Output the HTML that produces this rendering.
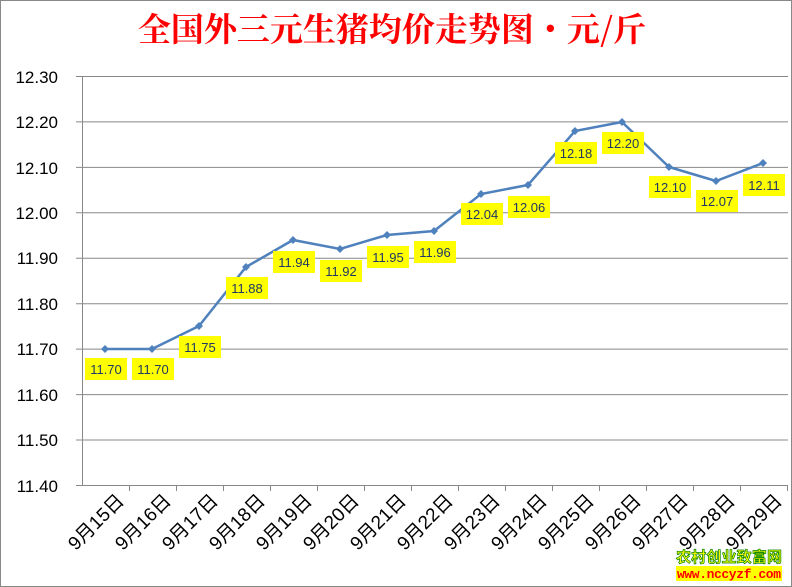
<!DOCTYPE html>
<html><head><meta charset="utf-8"><style>
body{margin:0;background:#fff}
svg{display:block;font-family:"Liberation Sans","Noto Sans CJK SC",sans-serif}
</style></head><body>
<svg width="792" height="587" viewBox="0 0 792 587">
<rect x="0.5" y="0.5" width="791" height="586" fill="#fff" stroke="#888"/>
<text x="392" y="41" text-anchor="middle" font-family="'Noto Serif CJK SC',serif" font-weight="bold" font-size="33" fill="#f00">全国外三元生猪均价走势图・元/斤</text>
<g stroke="#888" stroke-width="1">
<line x1="76" y1="76.5" x2="788" y2="76.5"/>
<line x1="76" y1="121.9" x2="788" y2="121.9"/>
<line x1="76" y1="167.4" x2="788" y2="167.4"/>
<line x1="76" y1="212.8" x2="788" y2="212.8"/>
<line x1="76" y1="258.2" x2="788" y2="258.2"/>
<line x1="76" y1="303.7" x2="788" y2="303.7"/>
<line x1="76" y1="349.1" x2="788" y2="349.1"/>
<line x1="76" y1="394.6" x2="788" y2="394.6"/>
<line x1="76" y1="440" x2="788" y2="440"/>
<line x1="76" y1="485.5" x2="788" y2="485.5"/>
<line x1="82.5" y1="76" x2="82.5" y2="485"/>
</g>
<g stroke="#888">
<line x1="129.5" y1="485" x2="129.5" y2="491"/><line x1="176.5" y1="485" x2="176.5" y2="491"/><line x1="223.5" y1="485" x2="223.5" y2="491"/><line x1="270.5" y1="485" x2="270.5" y2="491"/><line x1="317.5" y1="485" x2="317.5" y2="491"/><line x1="364.5" y1="485" x2="364.5" y2="491"/><line x1="411.5" y1="485" x2="411.5" y2="491"/><line x1="458.5" y1="485" x2="458.5" y2="491"/><line x1="505.5" y1="485" x2="505.5" y2="491"/><line x1="552.5" y1="485" x2="552.5" y2="491"/><line x1="599.5" y1="485" x2="599.5" y2="491"/><line x1="646.5" y1="485" x2="646.5" y2="491"/><line x1="693.5" y1="485" x2="693.5" y2="491"/><line x1="740.5" y1="485" x2="740.5" y2="491"/><line x1="787.5" y1="485" x2="787.5" y2="491"/>
</g>
<g font-size="17" fill="#000" text-anchor="end">
<text x="58" y="83">12.30</text><text x="58" y="128">12.20</text><text x="58" y="174">12.10</text><text x="58" y="219">12.00</text><text x="58" y="264">11.90</text><text x="58" y="310">11.80</text><text x="58" y="355">11.70</text><text x="58" y="401">11.60</text><text x="58" y="446">11.50</text><text x="58" y="492">11.40</text>
</g>
<polyline fill="none" stroke="#4f81bd" stroke-width="2.5" points="105,349 152,349 199,326 246,267 293,240 340,249 387,235 434,231 481,194 528,185 575,131 622,122 669,167 716,181 763,163"/>
<g fill="#4f81bd">
<path d="M105 345l4 4-4 4-4-4z"/><path d="M152 345l4 4-4 4-4-4z"/><path d="M199 322l4 4-4 4-4-4z"/><path d="M246 263l4 4-4 4-4-4z"/><path d="M293 236l4 4-4 4-4-4z"/><path d="M340 245l4 4-4 4-4-4z"/><path d="M387 231l4 4-4 4-4-4z"/><path d="M434 227l4 4-4 4-4-4z"/><path d="M481 190l4 4-4 4-4-4z"/><path d="M528 181l4 4-4 4-4-4z"/><path d="M575 127l4 4-4 4-4-4z"/><path d="M622 118l4 4-4 4-4-4z"/><path d="M669 163l4 4-4 4-4-4z"/><path d="M716 177l4 4-4 4-4-4z"/><path d="M763 159l4 4-4 4-4-4z"/>
</g>
<g font-size="13" fill="#1f3864" text-anchor="middle">
<g fill="#ffff00"><rect x="85" y="358" width="42" height="22"/><rect x="132" y="358" width="42" height="22"/><rect x="179" y="336" width="42" height="22"/><rect x="226" y="277" width="42" height="22"/><rect x="273" y="251" width="42" height="22"/><rect x="320" y="260" width="42" height="22"/><rect x="367" y="246" width="42" height="22"/><rect x="414" y="241" width="42" height="22"/><rect x="461" y="203" width="42" height="22"/><rect x="508" y="196" width="42" height="22"/><rect x="555" y="142" width="42" height="22"/><rect x="602" y="132" width="42" height="22"/><rect x="649" y="176" width="42" height="22"/><rect x="696" y="190" width="42" height="22"/><rect x="743" y="174" width="42" height="22"/></g>
<text x="106" y="374">11.70</text><text x="153" y="374">11.70</text><text x="200" y="352">11.75</text><text x="247" y="293">11.88</text><text x="294" y="267">11.94</text><text x="341" y="276">11.92</text><text x="388" y="262">11.95</text><text x="435" y="257">11.96</text><text x="482" y="219">12.04</text><text x="529" y="212">12.06</text><text x="576" y="158">12.18</text><text x="623" y="148">12.20</text><text x="670" y="192">12.10</text><text x="717" y="206">12.07</text><text x="764" y="190">12.11</text>
</g>
<g font-size="19" fill="#000" text-anchor="end">
<text transform="translate(125,502) rotate(-45)">9月15日</text><text transform="translate(172,502) rotate(-45)">9月16日</text><text transform="translate(219,502) rotate(-45)">9月17日</text><text transform="translate(266,502) rotate(-45)">9月18日</text><text transform="translate(313,502) rotate(-45)">9月19日</text><text transform="translate(360,502) rotate(-45)">9月20日</text><text transform="translate(407,502) rotate(-45)">9月21日</text><text transform="translate(454,502) rotate(-45)">9月22日</text><text transform="translate(501,502) rotate(-45)">9月23日</text><text transform="translate(548,502) rotate(-45)">9月24日</text><text transform="translate(595,502) rotate(-45)">9月25日</text><text transform="translate(642,502) rotate(-45)">9月26日</text><text transform="translate(689,502) rotate(-45)">9月27日</text><text transform="translate(736,502) rotate(-45)">9月28日</text><text transform="translate(783,502) rotate(-45)">9月29日</text>
</g>
<rect x="676" y="566" width="106" height="15" fill="#ffff00"/>
<text x="676" y="562" font-size="15" font-weight="bold" fill="#ffff00" stroke="#008000" stroke-width="0.7" font-family="'Noto Sans CJK SC',sans-serif" textLength="106">农村创业致富网</text>
<text x="677" y="578" font-size="13" font-weight="bold" fill="#ff0000" font-family="'Liberation Mono',monospace" textLength="104">www.nccyzf.com</text>
</svg>
</body></html>
